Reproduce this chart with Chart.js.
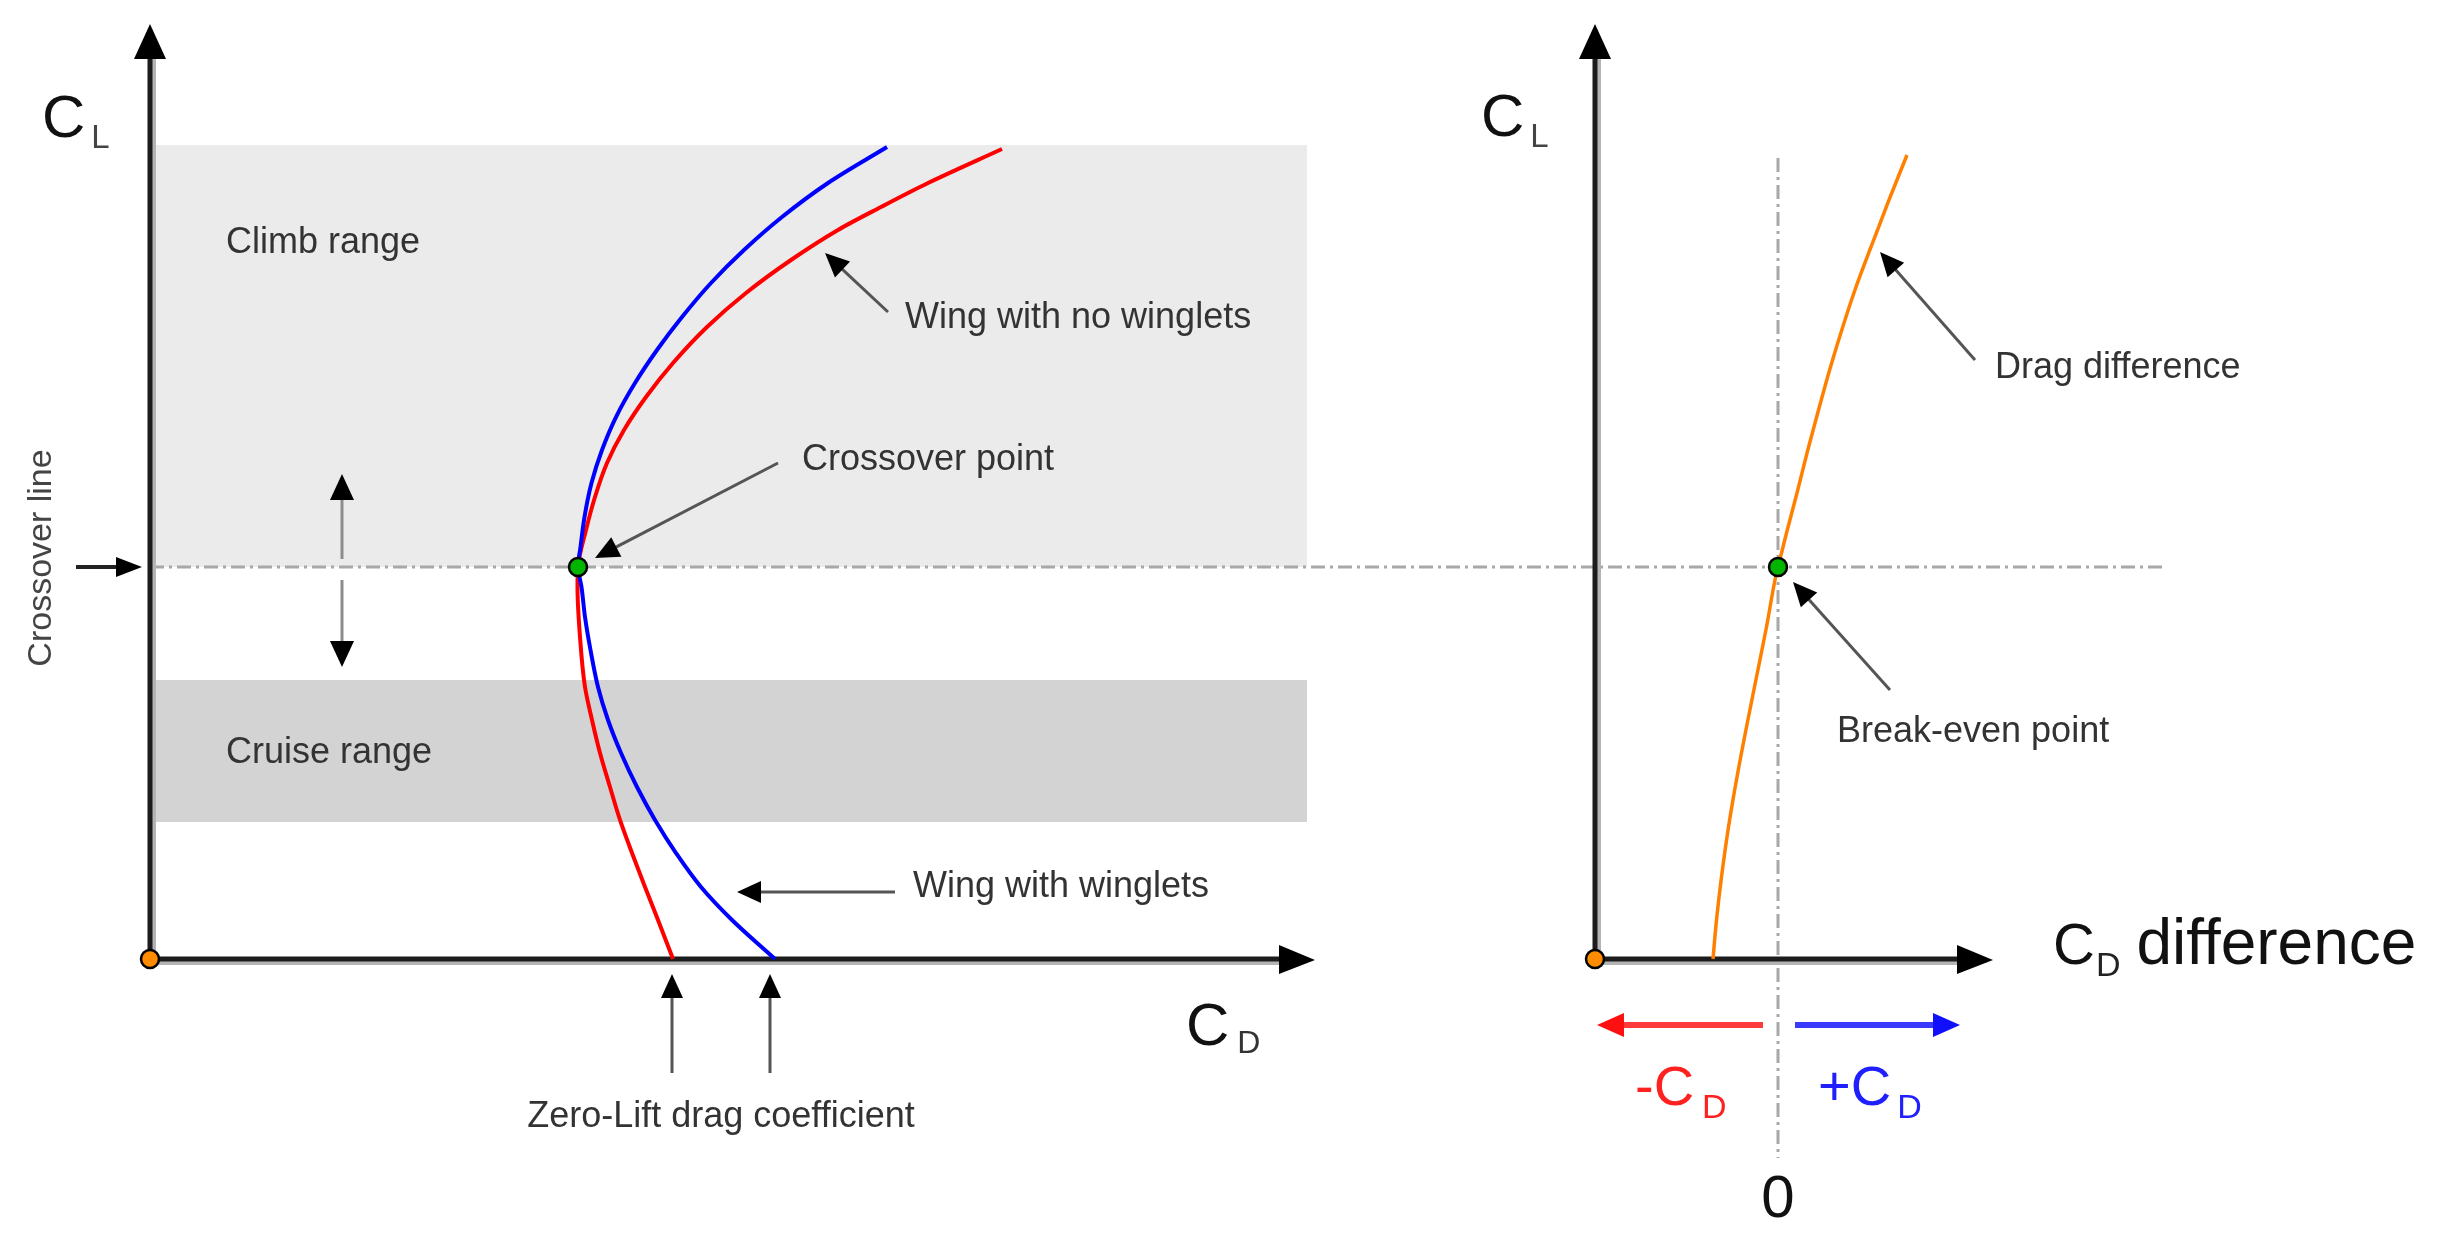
<!DOCTYPE html>
<html>
<head>
<meta charset="utf-8">
<script src="https://cdn.jsdelivr.net/npm/chart.js@4.4.1/dist/chart.umd.min.js"></script>
<style>
  html, body { margin: 0; padding: 0; background: #ffffff; }
  #wrap { width: 2440px; height: 1234px; position: relative; }
  canvas { display: block; }
</style>
</head>
<body>
<div id="wrap"><canvas id="c" width="2440" height="1234"></canvas></div>
<script>
// ---------------- DATA ----------------
// Wing with no winglets (red): lift coefficient vs drag coefficient
const noWingletCL = [0, 0.0796, 0.1469, 0.2163, 0.2837, 0.3510, 0.4204, 0.4878, 0.5551, 0.6571, 0.7592, 0.8000,
                     0.8755, 0.9429, 1.0122, 1.0796, 1.1469, 1.2163, 1.2898, 1.3592, 1.4265, 1.4878, 1.5347, 1.5837, 1.6531];
const noWingletCD = [0.02615, 0.0254, 0.02475, 0.0241, 0.0235, 0.0230, 0.0225, 0.0221, 0.02175, 0.0215, 0.021375, 0.0214,
                     0.0218, 0.02225, 0.02285, 0.0237, 0.0248, 0.02615, 0.02785, 0.0298, 0.03205, 0.0344, 0.03655, 0.0389, 0.0426];
// Wing with winglets (blue)
const wingletCL = [0, 0.0796, 0.1469, 0.2163, 0.2837, 0.3510, 0.4204, 0.4878, 0.5551, 0.6306, 0.6980, 0.7592, 0.8000,
                   0.8408, 0.9020, 0.9714, 1.0388, 1.1061, 1.1755, 1.2429, 1.3102, 1.3796, 1.4469, 1.5143, 1.5837, 1.6571];
const wingletCD = [0.03125, 0.0291, 0.02755, 0.0263, 0.02525, 0.02435, 0.02355, 0.0229, 0.0224, 0.022025, 0.02175, 0.021575, 0.0214,
                   0.021525, 0.021725, 0.022075, 0.0226, 0.0233, 0.02425, 0.02535, 0.0266, 0.02805, 0.0297, 0.0316, 0.0339, 0.03685];
// Drag difference (orange), right panel
const diffCL = [0, 0.0796, 0.1673, 0.2694, 0.3714, 0.4735, 0.5755, 0.6776, 0.7735, 0.8000,
                0.8694, 0.9510, 1.0327, 1.1204, 1.2082, 1.2980, 1.3714, 1.4531, 1.5490, 1.6408];
const diffCD = [-0.00325, -0.003075, -0.002825, -0.002475, -0.00205, -0.001575, -0.001075, -0.000575, -0.00015, 0,
                0.000425, 0.00095, 0.00145, 0.002025, 0.002625, 0.0033, 0.0039, 0.00465, 0.00555, 0.00645];
// Crossover / break-even
const crossoverCL = 0.8;
const crossoverCD = 0.0214;
const breakEvenCD = 0;
// Operating ranges (CL)
const climbRange = [0.8, 1.6612];
const cruiseRange = [0.2796, 0.5694];
const rangeCDmax = 0.05785;
// Zero-lift drag coefficients
const zeroLiftCD = [0.0261, 0.0310];
// Axes extents
const axisCLmax = 1.9082;
const leftAxisCDmax = 0.05825;
const diffAxisOrigin = -0.00915;
const diffAxisMax = 0.01075;
const crossLineEnd = 0.01935;      // on the difference axis
const zeroLineCL = [-0.4061, 1.6347];
const diffTickLabels = ['0'];

// ---------------- TEXT & ANNOTATIONS (data coordinates) ----------------
const FONT = '"Liberation Sans", Arial, Helvetica, sans-serif';
const leftNotes = [
  { text: 'Climb range', at: [0.0038, 1.4408] },
  { text: 'Cruise range', at: [0.0038, 0.4000] },
  { text: 'Wing with no winglets', at: [0.03775, 1.2878] },
  { text: 'Crossover point', at: [0.0326, 0.998] },
  { text: 'Wing with winglets', at: [0.03815, 0.1265] },
  { text: 'Zero-Lift drag coefficient', at: [0.02855, -0.3429], align: 'center' }
];
const rightNotes = [
  { text: 'Drag difference', at: [0.01085, 1.1857] },
  { text: 'Break-even point', at: [0.00295, 0.4429] }
];
const leftArrows = [
  { from: [0.0369, 1.3204], to: [0.03375, 1.4408] },
  { from: [0.0314, 1.0122], to: [0.02225, 0.8184] },
  { from: [0.03725, 0.1367], to: [0.02935, 0.1367] },
  { from: [zeroLiftCD[0], -0.2327], to: [zeroLiftCD[0], -0.0306] },
  { from: [zeroLiftCD[1], -0.2327], to: [zeroLiftCD[1], -0.0306] }
];
const rightArrows = [
  { from: [0.00985, 1.2224], to: [0.0051, 1.4429] },
  { from: [0.0056, 0.549], to: [0.00075, 0.7694] }
];

// ---------------- DRAWING PLUGIN ----------------
function line(ctx, x1, y1, x2, y2) {
  ctx.beginPath(); ctx.moveTo(x1, y1); ctx.lineTo(x2, y2); ctx.stroke();
}
function arrow(ctx, x1, y1, x2, y2, o) {
  o = Object.assign({ shaft: '#555', w: 3, head: '#000', len: 24, half: 11 }, o || {});
  const a = Math.atan2(y2 - y1, x2 - x1);
  const bx = x2 - o.len * Math.cos(a), by = y2 - o.len * Math.sin(a);
  ctx.lineCap = 'butt';
  ctx.strokeStyle = o.shaft; ctx.lineWidth = o.w;
  line(ctx, x1, y1, bx + Math.cos(a) * 2, by + Math.sin(a) * 2);
  ctx.fillStyle = o.head;
  ctx.beginPath();
  ctx.moveTo(x2, y2);
  ctx.lineTo(bx + o.half * Math.sin(a), by - o.half * Math.cos(a));
  ctx.lineTo(bx - o.half * Math.sin(a), by + o.half * Math.cos(a));
  ctx.closePath(); ctx.fill();
}
function subLabel(ctx, main, sub, px, py, mainSize, subSize, mainColor, subColor, dy, gap) {
  ctx.textAlign = 'left'; ctx.textBaseline = 'alphabetic';
  ctx.font = mainSize + 'px ' + FONT;
  ctx.fillStyle = mainColor;
  ctx.fillText(main, px, py);
  const w = ctx.measureText(main).width;
  const g = gap === undefined ? 8 : gap;
  ctx.font = subSize + 'px ' + FONT;
  ctx.fillStyle = subColor;
  ctx.fillText(sub, px + w + g, py + dy);
  return px + w + g + ctx.measureText(sub).width;
}

const diagram = {
  id: 'diagram',
  beforeDatasetsDraw(chart) {
    const ctx = chart.ctx;
    const { x, x2, y } = chart.scales;
    const X = v => x.getPixelForValue(v), X2 = v => x2.getPixelForValue(v), Y = v => y.getPixelForValue(v);
    ctx.save();
    // operating ranges
    ctx.fillStyle = '#ebebeb';
    ctx.fillRect(X(0), Y(climbRange[1]), X(rangeCDmax) - X(0), Y(climbRange[0]) - Y(climbRange[1]));
    ctx.fillStyle = '#d3d3d3';
    ctx.fillRect(X(0), Y(cruiseRange[1]), X(rangeCDmax) - X(0), Y(cruiseRange[0]) - Y(cruiseRange[1]));
    // dash-dot lines
    ctx.strokeStyle = '#a8a8a8'; ctx.lineWidth = 3; ctx.setLineDash([14, 5, 3, 5]);
    line(ctx, X(0), Y(crossoverCL), X2(crossLineEnd), Y(crossoverCL));
    line(ctx, X2(breakEvenCD), Y(zeroLineCL[1]), X2(breakEvenCD), Y(zeroLineCL[0]));
    ctx.setLineDash([]);
    // axes
    const drawAxes = (ox, oy, tipX, tipY) => {
      ctx.lineCap = 'butt';
      ctx.strokeStyle = '#b4b4b4'; ctx.lineWidth = 4;
      line(ctx, ox + 4, oy, ox + 4, tipY + 30);
      line(ctx, ox, oy + 4, tipX - 30, oy + 4);
      ctx.strokeStyle = '#1c1c1c'; ctx.lineWidth = 5;
      line(ctx, ox, oy + 2, ox, tipY + 30);
      line(ctx, ox - 2, oy, tipX - 30, oy);
      ctx.fillStyle = '#000';
      ctx.beginPath(); ctx.moveTo(ox, tipY); ctx.lineTo(ox - 16, tipY + 35); ctx.lineTo(ox + 16, tipY + 35); ctx.closePath(); ctx.fill();
      ctx.beginPath(); ctx.moveTo(tipX, oy + 1); ctx.lineTo(tipX - 36, oy - 14); ctx.lineTo(tipX - 36, oy + 15); ctx.closePath(); ctx.fill();
    };
    drawAxes(X(0), Y(0), X(leftAxisCDmax), Y(axisCLmax));
    drawAxes(X2(diffAxisOrigin), Y(0), X2(diffAxisMax), Y(axisCLmax));
    ctx.restore();
  },
  afterDatasetsDraw(chart) {
    const ctx = chart.ctx;
    const { x, x2, y } = chart.scales;
    const X = v => x.getPixelForValue(v), X2 = v => x2.getPixelForValue(v), Y = v => y.getPixelForValue(v);
    ctx.save();
    // annotation arrows
    leftArrows.forEach(a => arrow(ctx, X(a.from[0]), Y(a.from[1]), X(a.to[0]), Y(a.to[1])));
    rightArrows.forEach(a => arrow(ctx, X2(a.from[0]), Y(a.from[1]), X2(a.to[0]), Y(a.to[1])));
    // crossover line pointer
    arrow(ctx, X(-0.0037), Y(crossoverCL), X(-0.0004), Y(crossoverCL), { shaft: '#222', w: 4, len: 26, half: 10 });
    // up/down double arrow
    arrow(ctx, X(0.0096), Y(0.8163), X(0.0096), Y(0.9898), { shaft: '#8c8c8c', w: 3, len: 26, half: 12 });
    arrow(ctx, X(0.0096), Y(0.7735), X(0.0096), Y(0.5959), { shaft: '#8c8c8c', w: 3, len: 26, half: 12 });
    // -CD / +CD arrows
    arrow(ctx, X2(-0.00075), Y(-0.1347), X2(-0.00905), Y(-0.1347), { shaft: '#ff3a3a', w: 6, head: '#ff1010', len: 27, half: 12 });
    arrow(ctx, X2(0.00085), Y(-0.1347), X2(0.0091), Y(-0.1347), { shaft: '#3a3aff', w: 6, head: '#1010ff', len: 27, half: 12 });

    // annotation texts
    ctx.font = '36px ' + FONT; ctx.fillStyle = '#333'; ctx.textBaseline = 'alphabetic';
    leftNotes.forEach(n => { ctx.textAlign = n.align || 'left'; ctx.fillText(n.text, X(n.at[0]), Y(n.at[1])); });
    rightNotes.forEach(n => { ctx.textAlign = n.align || 'left'; ctx.fillText(n.text, X2(n.at[0]), Y(n.at[1])); });

    // rotated "Crossover line"
    ctx.save();
    ctx.translate(X(-0.0054), Y(0.8184));
    ctx.rotate(-Math.PI / 2);
    ctx.textAlign = 'center'; ctx.textBaseline = 'middle';
    ctx.font = '34px ' + FONT; ctx.fillStyle = '#444';
    ctx.fillText('Crossover line', 0, 0);
    ctx.restore();

    // axis labels
    subLabel(ctx, 'C', 'L', X(-0.0054), Y(1.6776), 60, 33, '#111', '#444', 11, 6);
    subLabel(ctx, 'C', 'L', X2(-0.01485), Y(1.6796), 60, 33, '#111', '#444', 11, 6);
    subLabel(ctx, 'C', 'D', X(0.0518), Y(-0.1755), 60, 32, '#111', '#333', 8, 8);
    const endD = subLabel(ctx, 'C', 'D', X2(0.01375), Y(-0.0102), 58, 34, '#111', '#222', 12, 1);
    ctx.font = '64px ' + FONT; ctx.fillStyle = '#111'; ctx.textAlign = 'left';
    ctx.fillText('difference', endD + 16, Y(-0.0102));
    subLabel(ctx, '-C', 'D', X2(-0.00715), Y(-0.298), 56, 34, '#ff2020', '#ff2020', 13, 8);
    subLabel(ctx, '+C', 'D', X2(0.0020), Y(-0.298), 56, 34, '#2020ff', '#2020ff', 13, 6);
    // zero tick label
    ctx.font = '60px ' + FONT; ctx.fillStyle = '#111'; ctx.textAlign = 'center'; ctx.textBaseline = 'alphabetic';
    ctx.fillText(diffTickLabels[0], X2(breakEvenCD), Y(-0.5265));
    ctx.restore();
  }
};

// ---------------- CHART ----------------
const toPts = (xs, ys) => xs.map((v, i) => ({ x: v, y: ys[i] }));
const PX_PER_CD = 20000, PX_PER_CL = 490;  // scale factors for the canvas
const curve = (label, xs, ys, axisId, color, width, order) => ({
  label, data: toPts(xs, ys), xAxisID: axisId, yAxisID: 'y', indexAxis: 'y',
  showLine: true, borderColor: color, borderWidth: width, pointRadius: 0, pointHoverRadius: 0,
  cubicInterpolationMode: 'monotone', fill: false, clip: false, order
});
const dot = (label, px, py, axisId, color) => ({
  label, data: [{ x: px, y: py }], xAxisID: axisId, yAxisID: 'y', showLine: false,
  pointRadius: 9, pointHoverRadius: 9, pointBackgroundColor: color, pointBorderColor: '#000',
  pointBorderWidth: 2.5, clip: false, order: 0
});
new Chart(document.getElementById('c'), {
  type: 'line',
  data: {
    datasets: [
      dot('Crossover point', crossoverCD, crossoverCL, 'x', '#00b400'),
      dot('Break-even point', breakEvenCD, crossoverCL, 'x2', '#00b400'),
      dot('Origin', 0, 0, 'x', '#ff8c00'),
      dot('Origin (difference)', diffAxisOrigin, 0, 'x2', '#ff8c00'),
      curve('Wing with winglets', wingletCD, wingletCL, 'x', '#0000ff', 4, 2),
      curve('Wing with no winglets', noWingletCD, noWingletCL, 'x', '#ff0000', 4, 3),
      curve('Drag difference', diffCD, diffCL, 'x2', '#ff8000', 3.5, 2)
    ]
  },
  options: {
    responsive: false, animation: false, devicePixelRatio: 1,
    layout: { padding: 0, autoPadding: false },
    events: [],
    plugins: { legend: { display: false }, tooltip: { enabled: false } },
    scales: {
      x:  { type: 'linear', axis: 'x', display: false, min: -150 / PX_PER_CD, max: (2440 - 150) / PX_PER_CD },
      x2: { type: 'linear', axis: 'x', display: false, min: -1778 / PX_PER_CD, max: (2440 - 1778) / PX_PER_CD },
      y:  { type: 'linear', axis: 'y', display: false, min: (959 - 1234) / PX_PER_CL, max: 959 / PX_PER_CL }
    }
  },
  plugins: [diagram]
});
</script>
</body>
</html>
